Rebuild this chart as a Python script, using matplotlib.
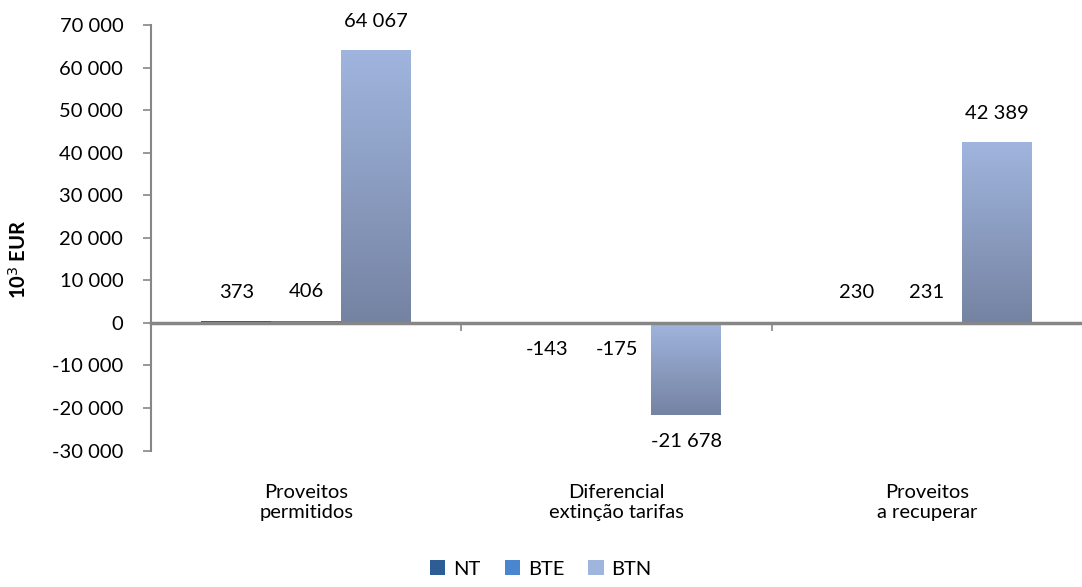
import numpy as np
import matplotlib.pyplot as plt
from matplotlib.colors import LinearSegmentedColormap
from matplotlib.patches import Patch

plt.rcParams['font.family'] = ['Lato', 'DejaVu Sans']

categorias = ["Proveitos\npermitidos", "Diferencial\nextinção tarifas", "Proveitos\na recuperar"]
series = ["NT", "BTE", "BTN"]
nt = [373, -143, 230]
bte = [406, -175, 231]
btn = [64067, -21678, 42389]

cores_topo = ["#2E5C94", "#4A86CF", "#A0B5DE"]
cores_base = ["#1E3C66", "#2F68AE", "#7583A2"]
fs = 14.5


def fmt(v):
    s = "{:,}".format(abs(v)).replace(",", " ")
    return ("-" if v < 0 else "") + s


fig = plt.figure(figsize=(10.82, 5.87), dpi=100)
ax = fig.add_axes([0.1396, 0.2325, 0.8604, 0.7250])

largura = 0.225
x = np.arange(len(categorias))
valores = [nt, bte, btn]
legenda = []

for i, (nome, vals) in enumerate(zip(series, valores)):
    pos = x + (i - 1) * largura
    cmap = LinearSegmentedColormap.from_list(nome, [cores_base[i], cores_topo[i]])
    barras = ax.bar(pos, vals, largura, color="none", zorder=2)
    legenda.append(Patch(facecolor=cores_topo[i], edgecolor="none", label=nome))
    for b, v in zip(barras, vals):
        # preenchimento em degradê dentro de cada barra
        x0 = b.get_x()
        y0, y1 = min(0, v), max(0, v)
        grad = np.linspace(0, 1, 256).reshape(-1, 1)
        im = ax.imshow(grad, extent=[x0, x0 + largura, y0, y1], origin="lower",
                       cmap=cmap, aspect="auto", zorder=2)
        im.set_clip_path(b)
        off = 21 if v >= 0 else -19
        ax.annotate(fmt(v), (b.get_x() + largura / 2, v), xytext=(0, off),
                    textcoords="offset points", ha="center", va="center",
                    fontsize=fs, color="#000000")

ax.set_xlim(-0.5, 2.5)
ax.set_ylim(-30000, 70000)
ax.set_yticks(np.arange(-30000, 70001, 10000))
ax.set_yticklabels([fmt(int(t)) for t in np.arange(-30000, 70001, 10000)], fontsize=fs)
ax.set_xticks([0.5, 1.5])
ax.set_xticklabels([])

cinza = "#868686"
for lado in ["top", "right"]:
    ax.spines[lado].set_visible(False)
ax.spines["left"].set_color(cinza)
ax.spines["left"].set_linewidth(1.5)
ax.spines["bottom"].set_position(("data", 0))
ax.spines["bottom"].set_color(cinza)
ax.spines["bottom"].set_linewidth(2.5)
ax.spines["bottom"].set_zorder(3)
ax.tick_params(axis="y", color=cinza, length=6, width=1.2, pad=14)
ax.tick_params(axis="x", color=cinza, length=6, width=1.2)

for xi, c in zip(x, categorias):
    ax.text(xi, -37800, c, ha="center", va="top", fontsize=fs, linespacing=1.2)

ax.set_ylabel("10$^{3}$ EUR", fontsize=fs, fontweight="bold")
ax.yaxis.set_label_coords(-0.13, 0.45)

fig.legend(handles=legenda, loc="lower center", ncol=3, frameon=False, fontsize=fs,
           bbox_to_anchor=(0.5, -0.015), handlelength=0.75, handleheight=0.75,
           columnspacing=1.2, handletextpad=0.4)
fig.savefig("out.png", dpi=100)
